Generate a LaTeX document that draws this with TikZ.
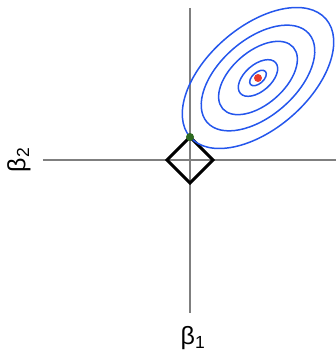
\documentclass[tikz,border=0pt]{standalone}
\usepackage{fontspec}
\setmainfont{Liberation Sans}
\usepackage{tikz}
\usetikzlibrary{positioning,calc}
\usepackage{xcolor}
\definecolor{caxis}{HTML}{7F7F7F}
\definecolor{cblue}{HTML}{2456EC}
\definecolor{cred}{HTML}{EA3B2C}
\definecolor{cgreen}{HTML}{2D6A1F}

\begin{document}
\begin{tikzpicture}[
  x=1pt, y=1pt,
  font=\fontsize{25}{27}\selectfont,
  axis/.style={caxis, line width=1.2pt},
  contour/.style={cblue, line width=1.5pt},
  lasso/.style={black, line width=3pt, line join=miter},
  dot/.style={circle, inner sep=0pt, minimum size=8pt},
]
\useasboundingbox (-190,-193) rectangle (146,160);
% axes
\coordinate (xl) at (-147,0);
\coordinate (xr) at (146,0);
\coordinate (yt) at (0,152);
\coordinate (yb) at (0,-153);
\draw[axis] (xl) -- (xr);
\draw[axis] (yt) -- (yb);
% constraint region
\draw[lasso] (23,0) -- (0,23) -- (-23,0) -- (0,-23) -- cycle;
% loss contours
\coordinate (ols) at (68,82);
\foreach \s in {1,0.75,0.52,0.26,0.11}
  \draw[contour, rotate around={41:(ols)}] (ols) ellipse ({90*\s} and {51*\s});
\node[dot, fill=cred] (bhat) at (ols) {};
\node[dot, fill=cgreen] (touch) at (0,23) {};
% labels
\node[rotate=90] (b2) at (-171,0) {β\textsubscript{2}};
\node (b1) at (3,-178) {β\textsubscript{1}};
\end{tikzpicture}
\end{document}
